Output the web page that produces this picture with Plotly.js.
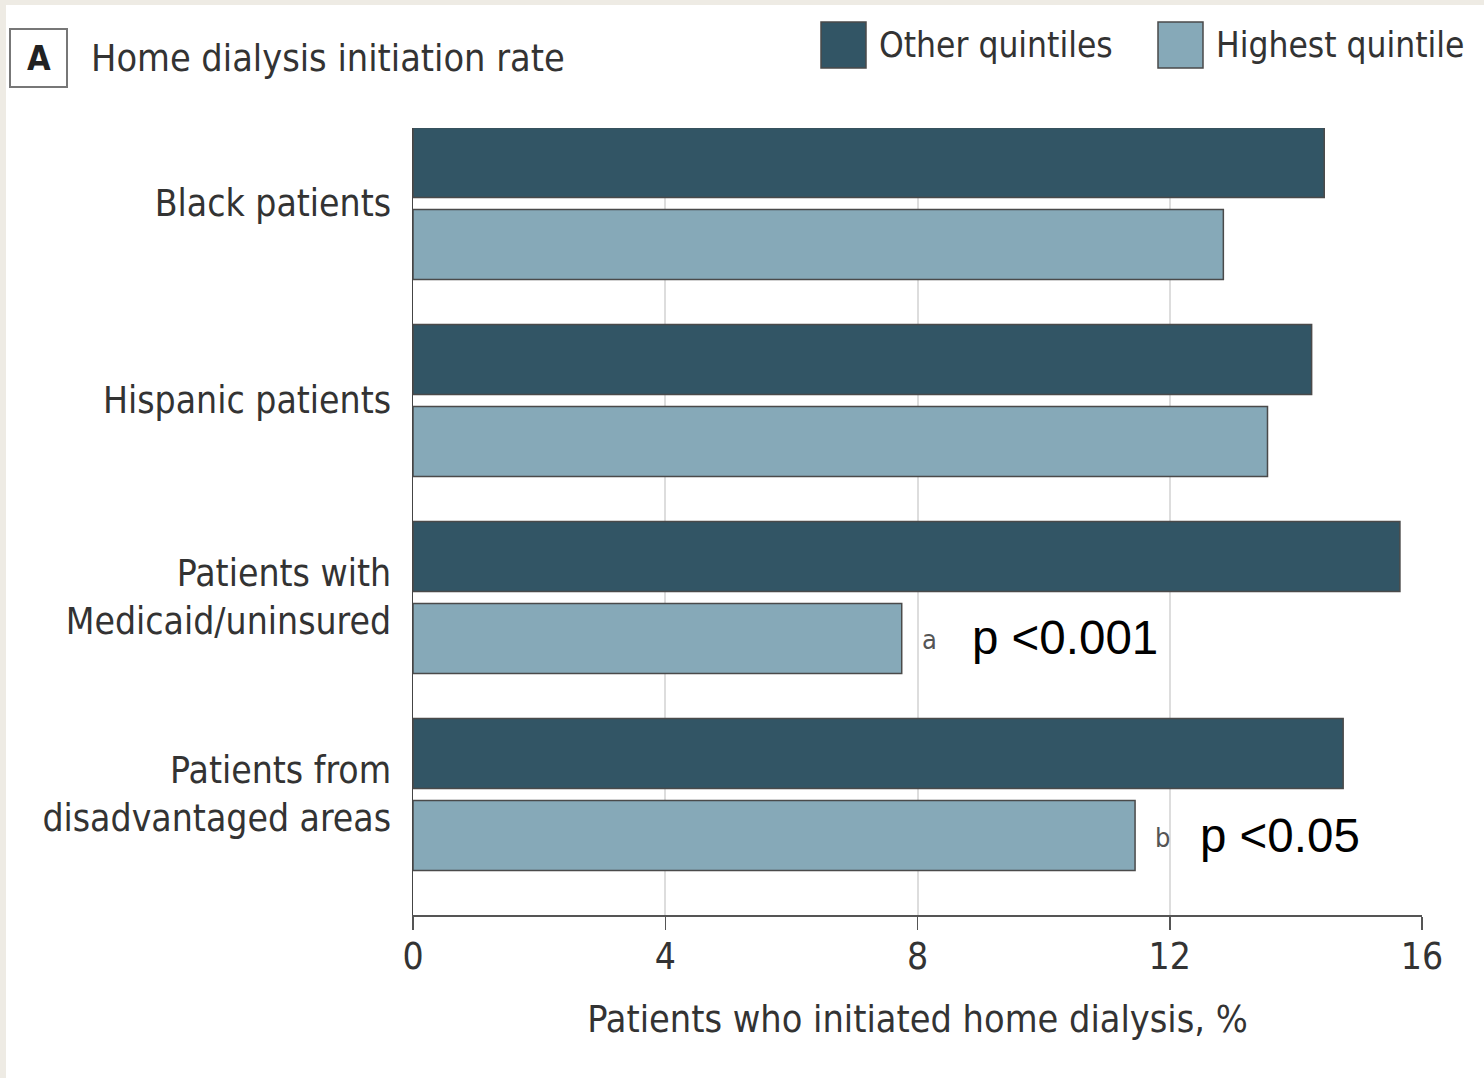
<!DOCTYPE html>
<html>
<head>
<meta charset="utf-8">
<script src="https://cdn.plot.ly/plotly-3.0.1.min.js"></script>
<style>
  html, body { margin: 0; padding: 0; background: #eeebe4; }
  #chart { position: absolute; left: 6px; top: 5px; width: 1478px; height: 1073px; background: #ffffff; }
</style>
</head>
<body>
<div id="chart"></div>
<script>
// ---- data ----
const categories = ["Black patients", "Hispanic patients", "Patients with<br>Medicaid/uninsured", "Patients from<br>disadvantaged areas"];
const otherQuintiles = [14.45, 14.25, 15.65, 14.75];
const highestQuintile = [12.85, 13.55, 7.75, 11.45];
const seriesNames = ["Other quintiles", "Highest quintile"];
const xTicks = [0, 4, 8, 12, 16];
const sigLetters = ["", "", "a", "b"];
const sigTexts = ["", "", "p <0.001", "p <0.05"];

// ---- layout helpers (full-image pixels -> paper coords) ----
const OFFX = 6, OFFY = 5, W = 1478, H = 1073;
const L = 413 - OFFX, T = 128 - OFFY, R = W - (1422 - OFFX), B = H - (915 - OFFY);
const PW = W - L - R, PH = H - T - B;
const px = X => (X - OFFX - L) / PW;
const py = Y => 1 - (Y - OFFY - T) / PH;

const DARK = "#325565", LIGHT = "#86a9b8";
const FONT = "'Liberation Sans Narrow', 'DejaVu Sans Condensed', 'Roboto', sans-serif";
const TXT = "#333333";

const traces = [
  {type: "bar", orientation: "h", name: seriesNames[0], y: categories, x: otherQuintiles,
   marker: {color: DARK, line: {color: "#4a4a4a", width: 1.5}}, hoverinfo: "x"},
  {type: "bar", orientation: "h", name: seriesNames[1], y: categories, x: highestQuintile,
   marker: {color: LIGHT, line: {color: "#4a4a4a", width: 1.5}}, hoverinfo: "x"}
];

const annotations = [];
const shapes = [];
// title box "A"
shapes.push({type: "rect", xref: "paper", yref: "paper", x0: px(10), x1: px(67), y0: py(87), y1: py(29),
  line: {color: "#777777", width: 2}, fillcolor: "#ffffff"});
annotations.push({xref: "paper", yref: "paper", x: px(38.5), y: py(58), text: "<b>A</b>", showarrow: false,
  xanchor: "center", yanchor: "middle", font: {family: FONT, size: 34, color: "#222222"}});
annotations.push({xref: "paper", yref: "paper", x: px(89), y: py(58), text: "Home dialysis initiation rate", showarrow: false,
  xanchor: "left", yanchor: "middle", font: {family: FONT, size: 37.5, color: TXT}});
// legend
const legendBoxes = [[821, 866], [1158, 1203]];
const legendColors = [DARK, LIGHT];
seriesNames.forEach((n, i) => {
  shapes.push({type: "rect", xref: "paper", yref: "paper", x0: px(legendBoxes[i][0]), x1: px(legendBoxes[i][1]),
    y0: py(68), y1: py(22), fillcolor: legendColors[i], line: {color: "#4a4a4a", width: 1.5}});
  annotations.push({xref: "paper", yref: "paper", x: px(legendBoxes[i][1] + 11), y: py(45), text: n, showarrow: false,
    xanchor: "left", yanchor: "middle", font: {family: FONT, size: 35, color: TXT}});
});
// significance markers
const sigY = [0, 0, 637, 835];
const sigTextX = [0, 0, 970, 1198];
categories.forEach((c, i) => {
  if (!sigLetters[i]) return;
  annotations.push({xref: "x", yref: "paper", x: highestQuintile[i], xshift: 18, y: py(sigY[i] + 2), text: sigLetters[i], showarrow: false,
    xanchor: "left", yanchor: "middle", font: {family: FONT, size: 27, color: "#555555"}});
  annotations.push({xref: "paper", yref: "paper", x: px(sigTextX[i]), y: py(sigY[i]), text: sigTexts[i], showarrow: false,
    xanchor: "left", yanchor: "middle", font: {family: "'Liberation Sans', Arial, sans-serif", size: 47.5, color: "#000000"}});
});

const layout = {
  width: W, height: H,
  margin: {l: L, r: R, t: T, b: B, pad: 0},
  paper_bgcolor: "#ffffff", plot_bgcolor: "#ffffff",
  showlegend: false,
  barmode: "group", bargap: 0.168, bargroupgap: 0.146,
  font: {family: FONT, color: TXT},
  xaxis: {
    range: [0, 16], tickvals: xTicks, ticktext: xTicks.map(String),
    showgrid: true, gridcolor: "#dddddd", gridwidth: 2,
    zeroline: false, showline: true, linecolor: "#555555", linewidth: 2,
    ticks: "outside", ticklen: 13, tickcolor: "#555555", tickwidth: 1.5,
    ticklabelstandoff: -5,
    tickfont: {family: FONT, size: 37, color: TXT},
    title: {text: "Patients who initiated home dialysis, %", font: {family: FONT, size: 37.5, color: TXT}, standoff: 28},
    fixedrange: true
  },
  yaxis: {
    type: "category", categoryorder: "array", categoryarray: categories,
    range: [3.612, -0.383],
    showgrid: false, zeroline: false, showline: true, linecolor: "#444444", linewidth: 1.5,
    ticks: "", ticklabelstandoff: 13,
    tickfont: {family: FONT, size: 37, color: TXT},
    fixedrange: true
  },
  shapes: shapes,
  annotations: annotations
};

Plotly.newPlot("chart", traces, layout, {displayModeBar: false, staticPlot: true});
</script>
</body>
</html>
